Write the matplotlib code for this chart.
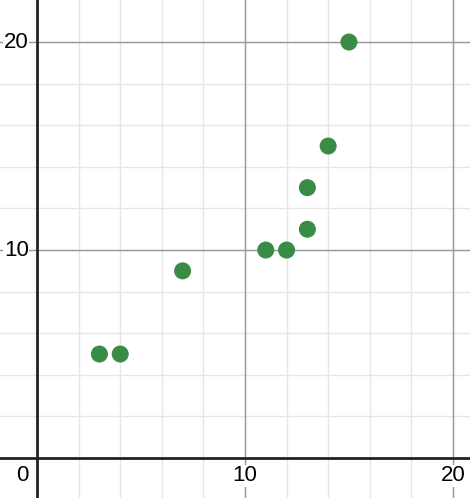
import numpy as np
import matplotlib.pyplot as plt

# datos
x = [3, 4, 7, 11, 12, 13, 13, 14, 15]
y = [5, 5, 9, 10, 10, 11, 13, 15, 20]

etiquetas_x = [0, 10, 20]
etiquetas_y = [10, 20]

fig = plt.figure(figsize=(4.70, 4.98), dpi=100)
ax = fig.add_axes([0, 0, 1, 1])

ax.set_xlim(-1.78, 20.82)
ax.set_ylim(-1.92, 22.02)

# cuadricula menor y mayor
for v in np.arange(-2, 22, 2):
    ax.axvline(v, color="#e6e6e6", lw=1, zorder=0)
    ax.axhline(v, color="#e6e6e6", lw=1, zorder=0)
for v in [10, 20]:
    ax.axvline(v, color="#999999", lw=1, zorder=1)
    ax.axhline(v, color="#999999", lw=1, zorder=1)

# ejes
ax.axvline(0, color="#222222", lw=2, zorder=2)
ax.axhline(0, color="#222222", lw=2, zorder=2)

ax.set_xticks([])
ax.set_yticks([])
for s in ax.spines.values():
    s.set_visible(False)

caja = dict(facecolor="white", edgecolor="none", pad=0.5)
fuente = "Liberation Sans"
for t in etiquetas_x:
    if t == 0:
        ax.text(-0.4, -0.35, "0", ha="right", va="top", fontsize=16,
                family=fuente, zorder=3)
    else:
        ax.text(t, -0.35, str(t), ha="center", va="top", fontsize=16,
                family=fuente, bbox=caja, zorder=3)
for t in etiquetas_y:
    ax.text(-0.4, t, str(t), ha="right", va="center", fontsize=16,
            family=fuente, bbox=caja, zorder=3)

ax.scatter(x, y, s=150, color="#388c46", edgecolors="none", zorder=4)

fig.savefig("out.png", dpi=100)
